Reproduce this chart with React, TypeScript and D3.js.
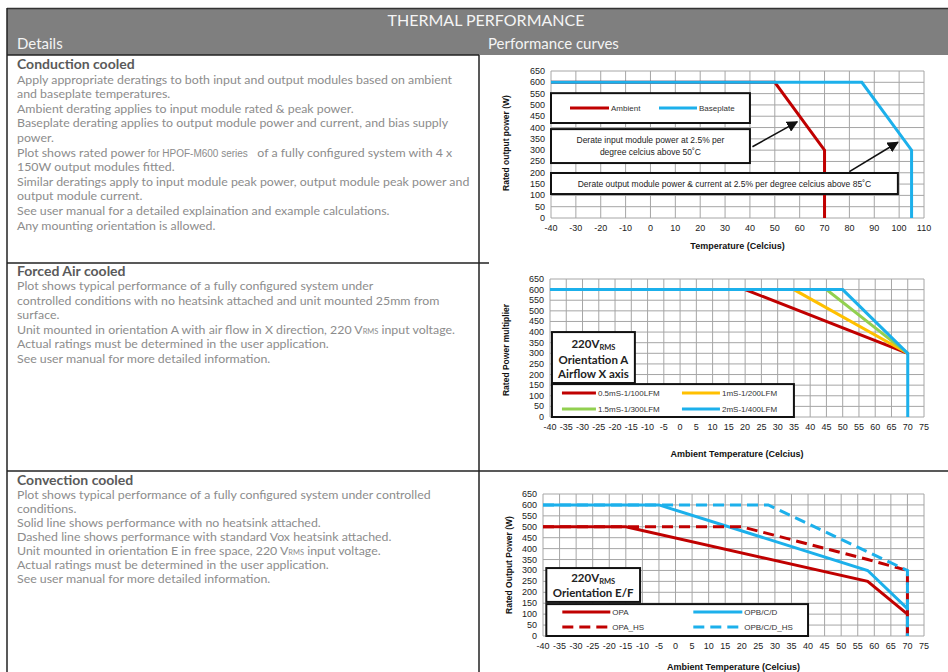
import React from 'react';
import * as d3 from 'd3';

// ---------- DATA ----------
// Chart 1: Conduction cooled
const c1XTicks = [-40, -30, -20, -10, 0, 10, 20, 30, 40, 50, 60, 70, 80, 90, 100, 110];
const c1YTicks = [0, 50, 100, 150, 200, 250, 300, 350, 400, 450, 500, 550, 600, 650];
const ambientX = [-40, 50, 70, 70];
const ambientY = [600, 600, 300, 0];
const baseplateX = [-40, 85, 105, 105];
const baseplateY = [600, 600, 300, 0];

// Chart 2: Forced air cooled
const c2XTicks = [-40, -35, -30, -25, -20, -15, -10, -5, 0, 5, 10, 15, 20, 25, 30, 35, 40, 45, 50, 55, 60, 65, 70, 75];
const c2YTicks = [0, 50, 100, 150, 200, 250, 300, 350, 400, 450, 500, 550, 600, 650];
const fa100X = [-40, 20, 70];
const fa100Y = [600, 600, 300];
const fa200X = [-40, 35, 70];
const fa200Y = [600, 600, 300];
const fa300X = [-40, 45, 70];
const fa300Y = [600, 600, 300];
const fa400X = [-40, 50, 70, 70];
const fa400Y = [600, 600, 300, 0];

// Chart 3: Convection cooled
const c3XTicks = c2XTicks;
const c3YTicks = c2YTicks;
const opaX = [-40, -15, 58, 70, 70];
const opaY = [500, 500, 250, 100, 0];
const opbX = [-40, -5, 58, 70, 70];
const opbY = [600, 600, 300, 125, 0];
const opaHsX = [-40, 20, 58, 70, 70];
const opaHsY = [500, 500, 350, 300, 0];
const opbHsX = [-40, 28, 58, 70, 70];
const opbHsY = [600, 600, 385, 300, 0];

// Text
type Seg = { t: string; small?: 'arial' | 'sub' };
const sec1Title = 'Conduction cooled';
const sec1Lines: Seg[][] = [
  [{ t: 'Apply appropriate deratings to both input and output modules based on ambient' }],
  [{ t: 'and baseplate temperatures.' }],
  [{ t: 'Ambient derating applies to input module rated & peak power.' }],
  [{ t: 'Baseplate derating applies to output module power and current, and bias supply' }],
  [{ t: 'power.' }],
  [{ t: 'Plot shows rated power ' }, { t: 'for HPOF-M600 series', small: 'arial' }, { t: '   of a fully configured system with 4 x' }],
  [{ t: '150W output modules fitted.' }],
  [{ t: 'Similar deratings apply to input module peak power, output module peak power and' }],
  [{ t: 'output module current.' }],
  [{ t: 'See user manual for a detailed explaination and example calculations.' }],
  [{ t: 'Any mounting orientation is allowed.' }],
];
const sec2Title = 'Forced Air cooled';
const sec2Lines: Seg[][] = [
  [{ t: 'Plot shows typical performance of a fully configured system under' }],
  [{ t: 'controlled conditions with no heatsink attached and unit mounted 25mm from' }],
  [{ t: 'surface.' }],
  [{ t: 'Unit mounted in orientation A with air flow in X direction, 220 V' }, { t: 'RMS', small: 'sub' }, { t: ' input voltage.' }],
  [{ t: 'Actual ratings must be determined in the user application.' }],
  [{ t: 'See user manual for more detailed information.' }],
];
const sec3Title = 'Convection cooled';
const sec3Lines: Seg[][] = [
  [{ t: 'Plot shows typical performance of a fully configured system under controlled' }],
  [{ t: 'conditions.' }],
  [{ t: 'Solid line shows performance with no heatsink attached.' }],
  [{ t: 'Dashed line shows performance with standard Vox heatsink attached.' }],
  [{ t: 'Unit mounted in orientation E in free space, 220 V' }, { t: 'RMS', small: 'sub' }, { t: ' input voltage.' }],
  [{ t: 'Actual ratings must be determined in the user application.' }],
  [{ t: 'See user manual for more detailed information.' }],
];

// ---------- STYLE ----------
const FC = "'Liberation Sans', Arial, sans-serif";
const FT = "Lato, 'Open Sans', sans-serif";
const RED = '#c00000';
const BLUE = '#1cb0eb';
const YEL = '#ffc000';
const GRN = '#92d050';
const GRID = '#a6a6a6';
const BODY = '#8c8c8c';
const HEAD = '#5a5a5a';
const BODY_FS = 12.35;

type Sc = d3.ScaleLinear<number, number>;

function Axes(p: {
  x: Sc; y: Sc; xTicks: number[]; yTicks: number[];
  xTitle: string; xTitleY: number; yTitle: string; yTitleX: number; yTitleY: number;
}) {
  const { x, y, xTicks, yTicks } = p;
  const [x0, x1] = x.range();
  const [y0, y1] = y.range();
  return (
    <g>
      {xTicks.map((t) => (
        <line key={'vx' + t} x1={x(t)} x2={x(t)} y1={y0} y2={y1} stroke={GRID} strokeWidth={1} />
      ))}
      {yTicks.map((t) => (
        <line key={'hy' + t} x1={x0} x2={x1} y1={y(t)} y2={y(t)} stroke={GRID} strokeWidth={1} />
      ))}
      {xTicks.map((t) => (
        <text key={'tx' + t} x={x(t)} y={y0 + 13} fontFamily={FC} fontSize={9} textAnchor="middle" fill="#222">
          {t}
        </text>
      ))}
      {yTicks.map((t) => (
        <text key={'ty' + t} x={x0 - 6} y={y(t) + 3} fontFamily={FC} fontSize={9} textAnchor="end" fill="#222">
          {t}
        </text>
      ))}
      <text x={(x0 + x1) / 2} y={p.xTitleY} fontFamily={FC} fontSize={9} fontWeight="bold" textAnchor="middle" fill="#111">
        {p.xTitle}
      </text>
      <text
        transform={`translate(${p.yTitleX},${p.yTitleY}) rotate(-90)`}
        fontFamily={FC} fontSize={8.5} fontWeight="bold" textAnchor="middle" fill="#111"
      >
        {p.yTitle}
      </text>
    </g>
  );
}

function Series(p: { x: Sc; y: Sc; xs: number[]; ys: number[]; color: string; dash?: string; width?: number }) {
  const line = d3.line<number>().x((i) => p.x(p.xs[i])).y((i) => p.y(p.ys[i]));
  const d = line(p.xs.map((_, i) => i)) || '';
  return <path d={d} fill="none" stroke={p.color} strokeWidth={p.width ?? 3} strokeDasharray={p.dash} strokeLinejoin="miter" />;
}

function LegendItem(p: { x: number; y: number; color: string; label: string; dash?: string; len?: number; fs?: number }) {
  const len = p.len ?? 36;
  return (
    <g>
      <line x1={p.x} x2={p.x + len} y1={p.y} y2={p.y} stroke={p.color} strokeWidth={3} strokeDasharray={p.dash} />
      <text x={p.x + len + 2} y={p.y + 3} fontFamily={FC} fontSize={p.fs ?? 8} fill="#333">
        {p.label}
      </text>
    </g>
  );
}

function Section(p: { title: string; lines: Seg[][]; titleY: number; firstY: number; step: number }) {
  return (
    <g>
      <text x={17} y={p.titleY} fontFamily={FT} fontSize={14} fontWeight="bold" fill={HEAD}>
        {p.title}
      </text>
      {p.lines.map((segs, i) => (
        <text key={i} x={17} y={p.firstY + i * p.step} fontFamily={FT} fontSize={BODY_FS} fill={BODY} style={{ whiteSpace: 'pre' }}>
          {segs.map((s, j) => (
            <tspan
              key={j}
              fontSize={s.small === 'arial' ? 10 : s.small === 'sub' ? 7.5 : BODY_FS}
              fontFamily={s.small === 'arial' ? FC : FT}
            >
              {s.t}
            </tspan>
          ))}
        </text>
      ))}
    </g>
  );
}

function BoxText(p: { cx: number; y: number; children: React.ReactNode }) {
  return (
    <text x={p.cx} y={p.y} fontFamily={FT} fontSize={11.5} fontWeight="bold" textAnchor="middle" fill="#222">
      {p.children}
    </text>
  );
}

export default function App() {
  // Chart 1 scales
  const x1 = d3.scaleLinear().domain([-40, 110]).range([551, 924]);
  const y1 = d3.scaleLinear().domain([0, 650]).range([218, 71]);
  // Chart 2 scales
  const x2 = d3.scaleLinear().domain([-40, 75]).range([550, 924]);
  const y2 = d3.scaleLinear().domain([0, 650]).range([417, 279]);
  // Chart 3 scales
  const x3 = d3.scaleLinear().domain([-40, 75]).range([543, 924]);
  const y3 = d3.scaleLinear().domain([0, 650]).range([636, 494]);

  const b1 = { xa: x1(-40), xb: x1(40), ya: y1(552), yb: y1(420) };
  const b2 = { xa: x1(-40), xb: x1(40), ya: y1(393), yb: y1(243) };
  const b3 = { xa: x1(-40), xb: x1(99.5), ya: y1(199), yb: y1(106) };

  const c2t = { xa: x2(-39.4), xb: x2(-13.9), ya: y2(400), yb: y2(160) };
  const c2l = { xa: x2(-39.4), xb: x2(35), ya: y2(155), yb: y2(0) };
  const c3t = { xa: x3(-39), xb: x3(-10.7), ya: y3(311), yb: y3(156) };
  const c3l = { xa: x3(-39), xb: x3(40), ya: y3(146), yb: y3(0) };

  const rectOf = (b: { xa: number; xb: number; ya: number; yb: number }) => (
    <rect x={b.xa} y={b.ya} width={b.xb - b.xa} height={b.yb - b.ya} fill="#fff" stroke="#111" strokeWidth={2} />
  );

  return (
    <svg width={948} height={672} style={{ position: 'absolute', left: 0, top: 0, background: '#fff' }}>
      <defs>
        <marker id="arr" viewBox="0 0 10 10" refX="9" refY="5" markerWidth="7" markerHeight="7" orient="auto">
          <path d="M0,0 L10,5 L0,10 z" fill="#111" />
        </marker>
      </defs>
      <rect x={0} y={0} width={948} height={672} fill="#fff" />

      {/* Header */}
      <rect x={7} y={8} width={941} height={47} fill="#7f7f7f" />
      <line x1={7} x2={948} y1={8.5} y2={8.5} stroke="#333" strokeWidth={1.5} />
      <text x={486} y={26} fontFamily={FT} fontSize={16} fill="#f4f4f4" textAnchor="middle">
        THERMAL PERFORMANCE
      </text>
      <text x={17} y={49} fontFamily={FT} fontSize={15} fill="#f4f4f4">
        Details
      </text>
      <text x={488} y={49} fontFamily={FT} fontSize={15} fill="#f4f4f4">
        Performance curves
      </text>

      {/* Table lines */}
      <line x1={7} x2={7} y1={8} y2={672} stroke="#222" strokeWidth={1.5} />
      <line x1={7} x2={479} y1={55} y2={55} stroke="#222" strokeWidth={1.5} />
      <line x1={479} x2={479} y1={55} y2={672} stroke="#222" strokeWidth={1.5} />
      <line x1={7} x2={489} y1={263} y2={263} stroke="#222" strokeWidth={1.5} />
      <line x1={7} x2={948} y1={471} y2={471} stroke="#222" strokeWidth={1.5} />

      {/* Left text */}
      <Section title={sec1Title} lines={sec1Lines} titleY={69} firstY={83.5} step={14.6} />
      <Section title={sec2Title} lines={sec2Lines} titleY={276} firstY={290} step={14.6} />
      <Section title={sec3Title} lines={sec3Lines} titleY={485} firstY={498.5} step={14.1} />

      {/* Chart 1 */}
      <Axes x={x1} y={y1} xTicks={c1XTicks} yTicks={c1YTicks}
        xTitle="Temperature (Celcius)" xTitleY={248.5}
        yTitle="Rated output power (W)" yTitleX={509} yTitleY={143} />
      <Series x={x1} y={y1} xs={ambientX} ys={ambientY} color={RED} />
      <Series x={x1} y={y1} xs={baseplateX} ys={baseplateY} color={BLUE} />
      {rectOf(b1)}
      <LegendItem x={b1.xa + 19} y={(b1.ya + b1.yb) / 2} color={RED} label="Ambient" len={39} />
      <LegendItem x={b1.xa + 108} y={(b1.ya + b1.yb) / 2} color={BLUE} label="Baseplate" len={38} />
      {rectOf(b2)}
      <text x={(b2.xa + b2.xb) / 2} y={b2.ya + 14} fontFamily={FC} fontSize={8.5} textAnchor="middle" fill="#222">
        Derate input module power at 2.5% per
      </text>
      <text x={(b2.xa + b2.xb) / 2} y={b2.ya + 26} fontFamily={FC} fontSize={8.5} textAnchor="middle" fill="#222">
        degree celcius above 50˚C
      </text>
      {rectOf(b3)}
      <text x={(b3.xa + b3.xb) / 2} y={(b3.ya + b3.yb) / 2 + 3} fontFamily={FC} fontSize={8.5} textAnchor="middle" fill="#222">
        Derate output module power & current at 2.5% per degree celcius above 85˚C
      </text>
      <line x1={x1(41)} y1={y1(315)} x2={x1(59)} y2={y1(425)} stroke="#111" strokeWidth={1.6} markerEnd="url(#arr)" />
      <line x1={x1(80)} y1={y1(205)} x2={x1(99.5)} y2={y1(335)} stroke="#111" strokeWidth={1.6} markerEnd="url(#arr)" />

      {/* Chart 2 */}
      <Axes x={x2} y={y2} xTicks={c2XTicks} yTicks={c2YTicks}
        xTitle="Ambient Temperature (Celcius)" xTitleY={456.5}
        yTitle="Rated Power multiplier" yTitleX={509} yTitleY={350} />
      <Series x={x2} y={y2} xs={fa100X} ys={fa100Y} color={RED} />
      <Series x={x2} y={y2} xs={fa200X} ys={fa200Y} color={YEL} />
      <Series x={x2} y={y2} xs={fa300X} ys={fa300Y} color={GRN} />
      <Series x={x2} y={y2} xs={fa400X} ys={fa400Y} color={BLUE} />
      {rectOf(c2t)}
      <BoxText cx={(c2t.xa + c2t.xb) / 2} y={c2t.ya + 16}>
        220V<tspan fontSize={7.5} dy={2}>RMS</tspan>
      </BoxText>
      <BoxText cx={(c2t.xa + c2t.xb) / 2} y={c2t.ya + 32}>Orientation A</BoxText>
      <BoxText cx={(c2t.xa + c2t.xb) / 2} y={c2t.ya + 46}>Airflow X axis</BoxText>
      {rectOf(c2l)}
      <LegendItem x={c2l.xa + 10} y={c2l.ya + 9} color={RED} label="0.5mS-1/100LFM" len={34} />
      <LegendItem x={c2l.xa + 130} y={c2l.ya + 9} color={YEL} label="1mS-1/200LFM" len={38} />
      <LegendItem x={c2l.xa + 10} y={c2l.ya + 25} color={GRN} label="1.5mS-1/300LFM" len={34} />
      <LegendItem x={c2l.xa + 130} y={c2l.ya + 25} color={BLUE} label="2mS-1/400LFM" len={38} />

      {/* Chart 3 */}
      <Axes x={x3} y={y3} xTicks={c3XTicks} yTicks={c3YTicks}
        xTitle="Ambient Temperature (Celcius)" xTitleY={669.5}
        yTitle="Rated Output Power (W)" yTitleX={512} yTitleY={565} />
      <Series x={x3} y={y3} xs={opaX} ys={opaY} color={RED} />
      <Series x={x3} y={y3} xs={opbX} ys={opbY} color={BLUE} />
      <Series x={x3} y={y3} xs={opaHsX} ys={opaHsY} color={RED} dash="11,6" />
      <Series x={x3} y={y3} xs={opbHsX} ys={opbHsY} color={BLUE} dash="11,6" />
      {rectOf(c3t)}
      <BoxText cx={(c3t.xa + c3t.xb) / 2} y={c3t.ya + 14}>
        220V<tspan fontSize={7.5} dy={2}>RMS</tspan>
      </BoxText>
      <BoxText cx={(c3t.xa + c3t.xb) / 2} y={c3t.ya + 29}>Orientation E/F</BoxText>
      {rectOf(c3l)}
      <LegendItem x={c3l.xa + 16} y={c3l.ya + 8} color={RED} label="OPA" len={48} />
      <LegendItem x={c3l.xa + 147} y={c3l.ya + 8} color={BLUE} label="OPB/C/D" len={49} />
      <LegendItem x={c3l.xa + 16} y={c3l.ya + 23} color={RED} label="OPA_HS" len={48} dash="11,6" />
      <LegendItem x={c3l.xa + 147} y={c3l.ya + 23} color={BLUE} label="OPB/C/D_HS" len={49} dash="11,6" />
    </svg>
  );
}
